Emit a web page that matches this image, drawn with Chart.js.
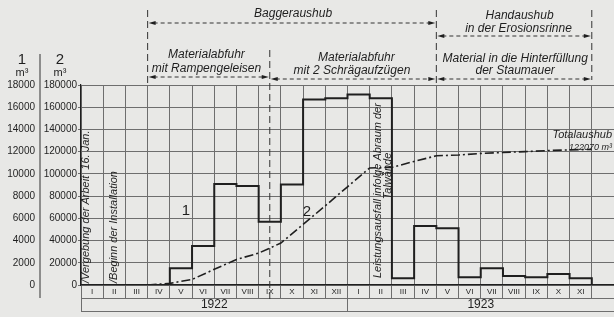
<!DOCTYPE html>
<html><head><meta charset="utf-8">
<script src="https://cdn.jsdelivr.net/npm/chart.js@4/dist/chart.umd.min.js"></script>
<style>html,body{margin:0;padding:0;background:#e8e8e6;}canvas{display:block}</style>
</head><body>
<canvas id="c" width="614" height="317"></canvas>
<script>
// ---- data ----
const months = ['I','II','III','IV','V','VI','VII','VIII','IX','X','XI','XII','I','II','III','IV','V','VI','VII','VIII','IX','X','XI'];
const years = ['1922','1923'];
const yearStarts = [0, 12];
// series 1: monthly excavation (m3)
const monthly = [null,null,null,1500,3500,9100,8900,5700,9050,16700,16800,17150,16800,600,5300,5100,700,1500,800,700,1000,600,0];
// series 2: cumulative excavation at month ends (m3)
const cumulative = [null,null,null,1500,5000,14100,23000,28700,37750,54500,71300,88400,105300,105900,111200,116300,117000,118400,119300,120000,121000,121600,122070];
const ticks1 = [0,2000,4000,6000,8000,10000,12000,14000,16000,18000];
const ticks2 = [0,20000,40000,60000,80000,100000,120000,140000,160000,180000];

const INK = '#1f1f1f', GRID = '#6e6e6e';
function stepPoints(vals){
  const pts=[]; let started=false;
  vals.forEach((v,i)=>{ if(v===null) return; if(!started){pts.push({x:i,y:0});started=true;} pts.push({x:i+1,y:v}); });
  return pts;
}
const nCols = 24;
const halfTicks = []; for(let i=0;i<=nCols*2;i++) halfTicks.push(i/2);
const yearTicks = [0,6,12,18,24];

const annot = {
  id:'annot',
  beforeDatasetsDraw(chart){
    const {ctx, scales:{x}} = chart;
    ctx.save();
    ctx.strokeStyle='#333'; ctx.lineWidth=1; ctx.setLineDash([7,4]);
    const px = x.getPixelForValue(8.5);
    ctx.beginPath(); ctx.moveTo(px,50); ctx.lineTo(px,299); ctx.stroke();
    ctx.restore();
  },
  afterDraw(chart){
    const {ctx, scales:{x}} = chart;
    const P = v => x.getPixelForValue(v);
    ctx.save();
    ctx.fillStyle=INK; ctx.strokeStyle='#333';
    // vertical dashed lines above chart
    ctx.lineWidth=1; ctx.setLineDash([7,4]);
    [[3,10,85],[16,10,85],[23,10,80]].forEach(([v,a,b])=>{ctx.beginPath();ctx.moveTo(P(v),a);ctx.lineTo(P(v),b);ctx.stroke();});
    // left separator
    ctx.setLineDash([]);
    ctx.beginPath(); ctx.moveTo(40,54); ctx.lineTo(40,298); ctx.stroke();
    // horizontal dashed arrows
    function arrow(a,b,y){
      const xa=P(a), xb=P(b);
      ctx.setLineDash([4,3]); ctx.beginPath(); ctx.moveTo(xa+6,y); ctx.lineTo(xb-6,y); ctx.stroke();
      ctx.setLineDash([]);
      ctx.beginPath(); ctx.moveTo(xa+1,y); ctx.lineTo(xa+8,y-2); ctx.lineTo(xa+8,y+2); ctx.closePath(); ctx.fill();
      ctx.beginPath(); ctx.moveTo(xb-1,y); ctx.lineTo(xb-8,y-2); ctx.lineTo(xb-8,y+2); ctx.closePath(); ctx.fill();
    }
    arrow(3,16,23); arrow(16,23,36); arrow(3,8.5,77); arrow(8.5,16,79); arrow(16,23,79);
    // texts
    ctx.textAlign='center'; ctx.textBaseline='middle';
    ctx.font='italic 12px "Liberation Sans"';
    ctx.fillText('Baggeraushub', P(9.55), 14);
    ctx.fillText('Handaushub', P(19.75), 16);
    ctx.fillText('in der Erosionsrinne', P(19.7), 29);
    ctx.fillText('Materialabfuhr', P(5.65), 55);
    ctx.fillText('mit Rampengeleisen', P(5.65), 69);
    ctx.fillText('Materialabfuhr', P(12.4), 58);
    ctx.fillText('mit 2 Schrägaufzügen', P(12.2), 71);
    ctx.fillText('Material in die Hinterfüllung', P(19.55), 59);
    ctx.fillText('der Staumauer', P(19.55), 71);
    ctx.font='italic 11px "Liberation Sans"';
    ctx.textAlign='right';
    ctx.fillText('Totalaushub', 612, 135);
    ctx.font='italic 9px "Liberation Sans"';
    ctx.fillText('122070 m³', 612, 147);
    // axis headers
    ctx.textAlign='center';
    ctx.font='15px "Liberation Sans"';
    ctx.fillText('1', 22, 60); ctx.fillText('2', 60, 60);
    ctx.font='11px "Liberation Sans"';
    ctx.fillText('m³', 22, 73); ctx.fillText('m³', 60, 73);
    // series labels
    ctx.font='15px "Liberation Sans"';
    ctx.fillText('1', 186, 211); ctx.fillText('2', 307, 212);
    // rotated notes
    function rot(text, cx, y, align, size){
      ctx.save(); ctx.translate(cx,y); ctx.rotate(-Math.PI/2);
      ctx.font='italic '+size+'px "Liberation Sans"'; ctx.textAlign=align; ctx.textBaseline='middle';
      ctx.fillText(text,0,0); ctx.restore();
    }
    rot('/Vergebung der Arbeit  16. Jan.', P(0.22), 283, 'left', 11);
    rot('/Beginn der Installation', P(1.5), 283, 'left', 11);
    rot('Leistungsausfall infolge Abraum der', P(13.35), 278, 'left', 11);
    rot('Talwände', P(13.8), 176, 'center', 11);
    ctx.restore();
  }
};

new Chart(document.getElementById('c'), {
  type:'line',
  data:{ datasets:[
    { data: stepPoints(monthly), stepped:'before', borderColor:INK, borderWidth:2, pointRadius:0, yAxisID:'y', xAxisID:'x', fill:false },
    { data: stepPoints(cumulative), borderColor:INK, borderWidth:1.6, borderDash:[9,3,2,3], pointRadius:0, yAxisID:'y2', xAxisID:'x', fill:false, tension:0 }
  ]},
  options:{
    responsive:false, animation:false, events:[],
    layout:{ padding:{ top:85, left:0, right:0, bottom:5 } },
    plugins:{ legend:{display:false}, tooltip:{enabled:false} },
    scales:{
      x:{ type:'linear', position:'bottom', min:0, max:nCols,
        afterBuildTicks:s=>{ s.ticks = halfTicks.map(v=>({value:v})); },
        grid:{ color:c=> (c.tick && Number.isInteger(c.tick.value)) ? GRID : 'rgba(0,0,0,0)', lineWidth:1, tickLength:13, drawTicks:true },
        border:{ display:true, color:INK, width:1.2 },
        ticks:{ autoSkip:false, maxRotation:0, minRotation:0, padding:-11.5, color:INK, font:{size:8, family:'"Liberation Sans"'},
          callback:v=> (Number.isInteger(v) || Math.floor(v)>=months.length) ? '' : months[Math.floor(v)] },
        afterFit:s=>{ s.height=13; } },
      xYear:{ type:'linear', position:'bottom', min:0, max:nCols,
        afterBuildTicks:s=>{ s.ticks = yearTicks.map(v=>({value:v})); },
        grid:{ drawOnChartArea:false, tickLength:13, color:c=> (c.tick && c.tick.value%12===0) ? GRID : 'rgba(0,0,0,0)' },
        border:{ display:true, color:GRID, width:1 },
        ticks:{ autoSkip:false, maxRotation:0, padding:-13.7, color:INK, font:{size:12, family:'"Liberation Sans"'},
          callback:v=> { const k = yearStarts.findIndex(s=>s+6===v); return k>=0 ? years[k] : ''; } },
        afterFit:s=>{ s.height=13; } },
      xEnd:{ type:'linear', position:'bottom', min:0, max:nCols,
        ticks:{display:false}, grid:{display:false, drawTicks:false}, border:{display:true, color:GRID, width:1},
        afterFit:s=>{ s.height=1; } },
      y:{ position:'left', min:0, max:18000, weight:1,
        afterBuildTicks:s=>{ s.ticks = ticks1.map(v=>({value:v})); },
        grid:{ display:false, drawTicks:false }, border:{display:false},
        ticks:{ padding:5, color:INK, font:{size:10, family:'"Liberation Sans"'}, callback:v=>String(v) },
        afterFit:s=>{ s.width=40; } },
      y2:{ position:'left', min:0, max:180000, weight:0,
        afterBuildTicks:s=>{ s.ticks = ticks2.map(v=>({value:v})); },
        grid:{ color:GRID, lineWidth:1, tickLength:3 }, border:{display:true, color:INK, width:1.2},
        ticks:{ padding:1, color:INK, font:{size:10, family:'"Liberation Sans"'}, callback:v=>String(v) },
        afterFit:s=>{ s.width=41; } }
    }
  },
  plugins:[annot]
});
</script>
</body></html>
